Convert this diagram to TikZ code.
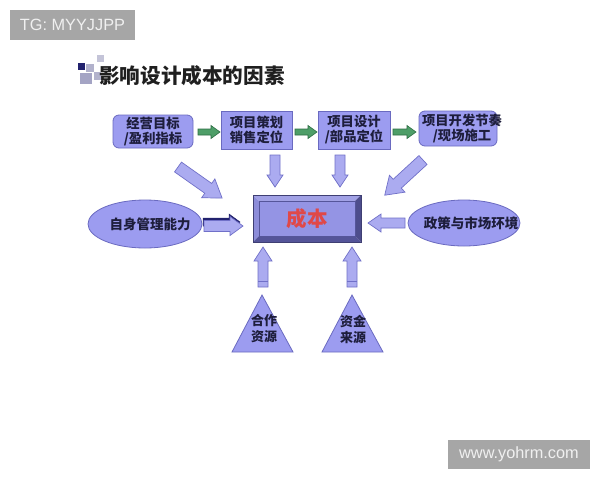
\documentclass[tikz,border=0pt]{standalone}
\usepackage{fontspec}
\setmainfont{Liberation Sans}
\newfontfamily\cjk{Noto Sans CJK SC}
\usetikzlibrary{shapes.geometric}
\definecolor{wmgray}{HTML}{A6A6A6}
\definecolor{boxfill}{HTML}{9C9CF0}
\definecolor{boxedge}{HTML}{6A6AC0}
\definecolor{arrfill}{HTML}{ABABF0}
\definecolor{arredge}{HTML}{7070C8}
\definecolor{grnfill}{HTML}{4E9E68}
\definecolor{grnedge}{HTML}{2E6E44}
\definecolor{txt}{HTML}{1E1E3C}
\definecolor{costred}{HTML}{E04848}
\definecolor{navy}{HTML}{22226E}
\definecolor{sqa}{HTML}{C4C4D8}
\definecolor{sqb}{HTML}{B2B2CC}
\definecolor{sqc}{HTML}{A4A4C4}
\newcommand\blockarr[8]{%
  \draw[#1, shift={(#2,#3)}, rotate=#4] (0,#6) -- ({#5-#8},#6) -- ({#5-#8},#7) -- (#5,0)
    -- ({#5-#8},-#7) -- ({#5-#8},-#6) -- (0,-#6) -- cycle;}
\begin{document}
\begin{tikzpicture}[x=1pt,y=-1pt,
  wm/.style={fill=wmgray, text=white!94!black, font=\fontsize{16.3}{18}\selectfont, inner sep=0},
  topbox/.style={draw=boxedge, fill=boxfill, line width=0.8pt, inner sep=0, align=center,
     text=txt, font=\cjk\bfseries\fontsize{13.3}{15}\selectfont},
  oval/.style={ellipse, draw=boxedge, fill=boxfill, line width=0.8pt, inner sep=0},
  lbl/.style={text=txt, align=center, font=\cjk\bfseries\fontsize{13.5}{16}\selectfont, inner sep=0},
  larr/.style={draw=arredge, fill=arrfill, line width=0.7pt, line join=miter},
  garr/.style={draw=grnedge, fill=grnfill, line width=0.6pt},
  tri/.style={draw=boxedge, fill=boxfill, line width=0.8pt, line join=miter}]
\useasboundingbox (0,0) rectangle (600,480);
\fill[white] (0,0) rectangle (600,480);
% watermarks
\node[wm, minimum width=125, minimum height=30] (wm1) at (72.5,25) {TG: MYYJJPP};
\node[wm, minimum width=142, minimum height=29] (wm2) at (519,454.5) {www.yohrm.com};
% title icon
\fill[sqa] (97,55) rectangle (104,62);
\fill[sqb] (86,64) rectangle (94,72);
\fill[sqc] (80,73) rectangle (92,84);
\fill[sqb] (94,72) rectangle (101,80);
\fill[navy] (78,63) rectangle (85,70);
\node[anchor=west, inner sep=0, font=\cjk\bfseries\fontsize{20.6}{22}\selectfont, text=black!88] (title) at (99,76) {影响设计成本的因素};
% top boxes
\node[topbox, rounded corners=6, minimum width=80, minimum height=33] (b1) at (153,131.5) {经营目标\\/盈利指标};
\node[topbox, minimum width=71, minimum height=38] (b2) at (256.5,130) {项目策划\\销售定位};
\node[topbox, minimum width=72, minimum height=38] (b3) at (354,130) {项目设计\\/部品定位};
\node[topbox, rounded corners=6, minimum width=78, minimum height=35] (b4) at (458,128.5) {};
\node[topbox, draw=none, fill=none] (b4t) at (462,128.5) {项目开发节奏\\/现场施工};
% green arrows
\blockarr{garr}{198}{132}{0}{22}{3}{6.5}{9}
\blockarr{garr}{295}{132}{0}{22}{3}{6.5}{9}
\blockarr{garr}{393}{132}{0}{23}{3}{6.5}{9}
% arrows into cost
\blockarr{larr}{178}{167}{-35.2}{54}{6}{11.5}{17}
\blockarr{larr}{275}{155}{-90}{32}{5}{8}{12}
\blockarr{larr}{340}{155}{-90}{32}{5}{8}{12}
\blockarr{larr}{423}{160}{-137.4}{52}{6}{11.5}{17}
% ellipses
\node[oval, minimum width=114, minimum height=48] (e1) at (145,224) {};
\node[lbl] (e1t) at (150,224) {自身管理能力};
\node[oval, minimum width=112, minimum height=46] (e2) at (464,223) {};
\node[lbl] (e2t) at (471,223) {政策与市场环境};
% side arrows
\blockarr{draw=navy, fill=navy, line width=0.5pt}{203}{222}{0}{37}{4}{8}{11}
\blockarr{larr}{204}{226}{0}{39}{5.5}{9.5}{13}
\blockarr{larr}{405}{223}{180}{37}{5}{9}{13}
% cost box (bevelled)
\coordinate (co1) at (253,195); \coordinate (co2) at (361,242);
\fill[fill=blue!30!white!90!black] (253,195) -- (361,195) -- (355,201) -- (259,201) -- cycle;
\fill[fill=blue!35!white!85!black] (253,195) -- (259,201) -- (259,236) -- (253,242) -- cycle;
\fill[fill=blue!45!white!60!black] (253,242) -- (259,236) -- (355,236) -- (361,242) -- cycle;
\fill[fill=blue!45!white!55!black] (361,195) -- (361,242) -- (355,236) -- (355,201) -- cycle;
\node[draw=boxedge!80!black, fill=boxfill!95!black, line width=0.6pt, minimum width=96, minimum height=35, inner sep=0,
  text=costred, font=\cjk\bfseries\fontsize{20.5}{22}\selectfont] (cost) at (307,218.5) {成本};
\draw[boxedge!60!black, line width=0.7pt] (co1) rectangle (co2);
% up arrows
\blockarr{larr}{263}{287}{90}{40}{5}{9}{14}
\blockarr{larr}{352}{287}{90}{40}{5}{9}{14}
\draw[arredge, line width=0.6pt] (258,281) -- (268,281) (347,281) -- (357,281);
% triangles
\coordinate (t1a) at (262,295); \coordinate (t1b) at (232,352); \coordinate (t1c) at (293,352);
\draw[tri] (t1a) -- (t1c) -- (t1b) -- cycle;
\node[lbl, font=\cjk\bfseries\fontsize{13}{16}\selectfont] (t1t) at (264,329) {合作\\资源};
\coordinate (t2a) at (352,295); \coordinate (t2b) at (322,352); \coordinate (t2c) at (383,352);
\draw[tri] (t2a) -- (t2c) -- (t2b) -- cycle;
\node[lbl, font=\cjk\bfseries\fontsize{13}{16}\selectfont] (t2t) at (353,329) {资金\\来源};
\end{tikzpicture}
\end{document}
